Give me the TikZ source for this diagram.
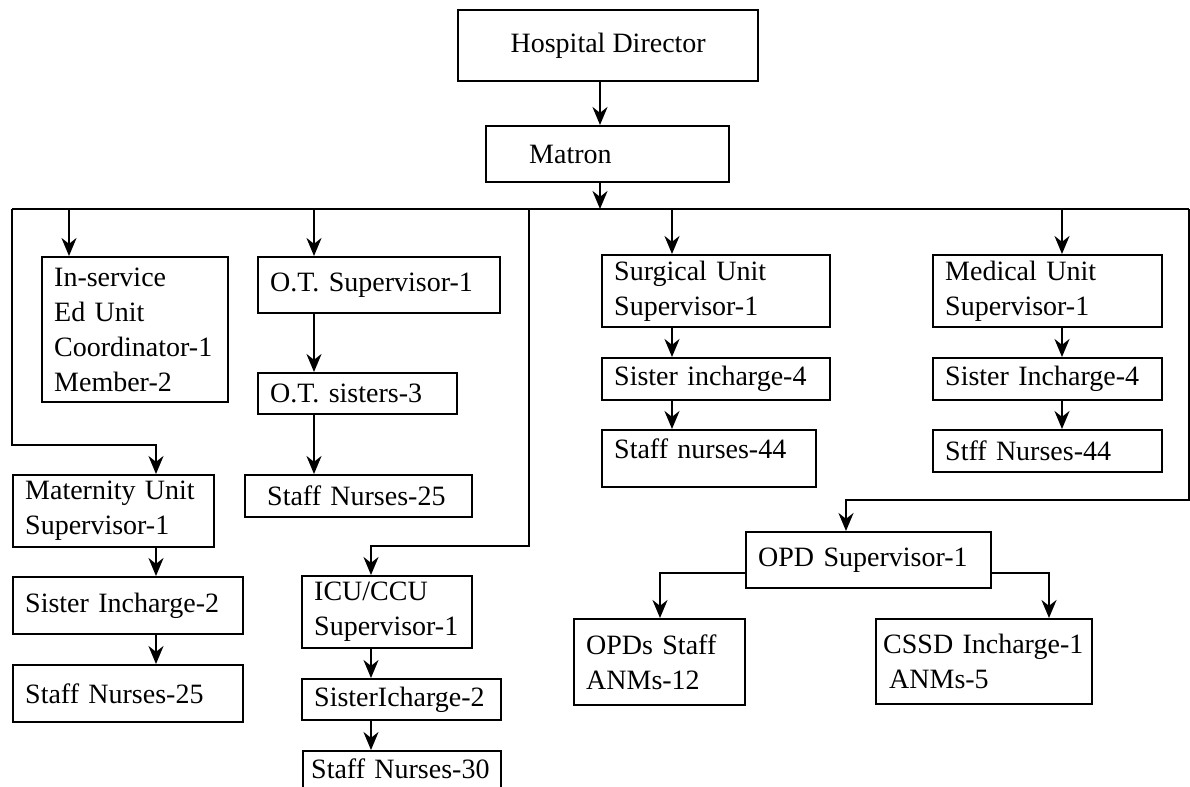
\documentclass[tikz,border=0pt]{standalone}
\usepackage{fontspec}
\setmainfont{Liberation Serif}
\usetikzlibrary{arrows.meta}
\exhyphenpenalty=10000
\hyphenpenalty=10000

\begin{document}
\begin{tikzpicture}[x=0.5pt,y=-0.5pt,
    unit/.style={draw,line width=1.2pt,anchor=north west,align=left,inner xsep=6pt,inner ysep=0pt,font=\fontsize{14}{17.5}\selectfont},
    wire/.style={line width=1.2pt},
    arr/.style={line width=1.2pt,-{Stealth[length=9pt,width=7.5pt]}}]
    \useasboundingbox (0,0) rectangle (1190,787);
    \clip (0,0) rectangle (1190,787);

    % head of the chart
    \node[unit,align=center,minimum width=150pt,minimum height=35.5pt] (director) at (457,9) {Hospital Director};
    \node[unit,inner xsep=21.5pt,text width=78.5pt,minimum height=28pt] (matron) at (485,125) {Matron};

    % left half
    \node[unit,text width=81pt,minimum height=72.5pt] (inserv) at (41,256) {In-service\\Ed Unit\\Coordinator-1\\Member-2};
    \node[unit,text width=109pt,minimum height=28pt] (otsup) at (257,256) {O.T. Supervisor-1};
    \node[unit,text width=87.5pt,minimum height=20.5pt] (otsis) at (257,372) {O.T. sisters-3};
    \node[unit,inner xsep=11pt,text width=91.5pt,minimum height=21pt] (otstaff) at (244,474) {Staff Nurses-25};

    \node[unit,text width=88.5pt,minimum height=36pt] (mater) at (12,474) {Maternity Unit\\Supervisor-1};
    \node[unit,text width=103pt,minimum height=28.5pt] (sisin2) at (12,576) {Sister Incharge-2};
    \node[unit,text width=103pt,minimum height=28.5pt] (lstaff) at (12,664) {Staff Nurses-25};

    \node[unit,text width=73pt,minimum height=36pt] (icu) at (301,575) {ICU/CCU\\Supervisor-1};
    \node[unit,text width=87.5pt,minimum height=20.5pt] (sisic2) at (301,678) {SisterIcharge-2};
    \node[unit,inner xsep=4pt,text width=91pt,text height=13.5pt,text depth=11.5pt] (staff30) at (302,750) {Staff Nurses-30};

    % right half
    \node[unit,text width=102pt,minimum height=36pt] (surg) at (601,254) {Surgical Unit\\Supervisor-1};
    \node[unit,text width=102pt,minimum height=21pt] (sisin4) at (601,357) {Sister incharge-4};
    \node[unit,text width=95pt,text height=14pt,text depth=14.5pt] (sstaff) at (601,429) {Staff nurses-44};

    \node[unit,text width=102.5pt,minimum height=36pt] (med) at (932,254) {Medical Unit\\Supervisor-1};
    \node[unit,text width=102.5pt,minimum height=21pt] (msisin4) at (932,357) {Sister Incharge-4};
    \node[unit,text width=102.5pt,minimum height=21pt] (mstaff) at (932,429) {Stff Nurses-44};

    \node[unit,text width=110.5pt,minimum height=28pt] (opd) at (745,531) {OPD Supervisor-1};
    \node[unit,text width=73.5pt,minimum height=43pt] (opds) at (573,618) {OPDs Staff\\ANMs-12};
    \node[unit,inner xsep=3.5pt,text width=101pt,minimum height=42.5pt] (cssd) at (875,618) {CSSD Incharge-1\\\hspace*{3pt}ANMs-5};

    % bus and bends
    \coordinate (spine) at (600,209);
    \coordinate (busL) at (12,209);
    \coordinate (busR) at (1189,209);
    \coordinate (icudrop) at (529,209);
    \coordinate (tinserv) at (69,209);
    \coordinate (tot) at (314,209);
    \coordinate (tsurg) at (672,209);
    \coordinate (tmed) at (1062,209);
    \coordinate (matbend) at (156,445);
    \coordinate (icubend) at (371,546);
    \coordinate (opdbend) at (846,500);
    \coordinate (opdsin) at (660,573);
    \coordinate (cssdin) at (1049,573);

    \draw[arr] (director.south -| spine) -- (matron.north -| spine);
    \draw[arr] (matron.south -| spine) -- (spine);
    \draw[wire] (busL) -- (busR);

    \draw[arr] (tinserv) -- (inserv.north -| tinserv);
    \draw[arr] (tot) -- (otsup.north -| tot);
    \draw[arr] (otsup.south -| tot) -- (otsis.north -| tot);
    \draw[arr] (otsis.south -| tot) -- (otstaff.north -| tot);

    \draw[arr] (busL) |- (matbend) -- (mater.north -| matbend);
    \draw[arr] (mater.south -| matbend) -- (sisin2.north -| matbend);
    \draw[arr] (sisin2.south -| matbend) -- (lstaff.north -| matbend);

    \draw[arr] (icudrop) |- (icubend) -- (icu.north -| icubend);
    \draw[arr] (icu.south -| icubend) -- (sisic2.north -| icubend);
    \draw[arr] (sisic2.south -| icubend) -- (staff30.north -| icubend);

    \draw[arr] (tsurg) -- (surg.north -| tsurg);
    \draw[arr] (surg.south -| tsurg) -- (sisin4.north -| tsurg);
    \draw[arr] (sisin4.south -| tsurg) -- (sstaff.north -| tsurg);

    \draw[arr] (tmed) -- (med.north -| tmed);
    \draw[arr] (med.south -| tmed) -- (msisin4.north -| tmed);
    \draw[arr] (msisin4.south -| tmed) -- (mstaff.north -| tmed);

    \draw[arr] (busR) |- (opdbend) -- (opd.north -| opdbend);
    \draw[arr] (opd.west |- opdsin) -| (opds.north -| opdsin);
    \draw[arr] (opd.east |- cssdin) -| (cssd.north -| cssdin);
\end{tikzpicture}
\end{document}
